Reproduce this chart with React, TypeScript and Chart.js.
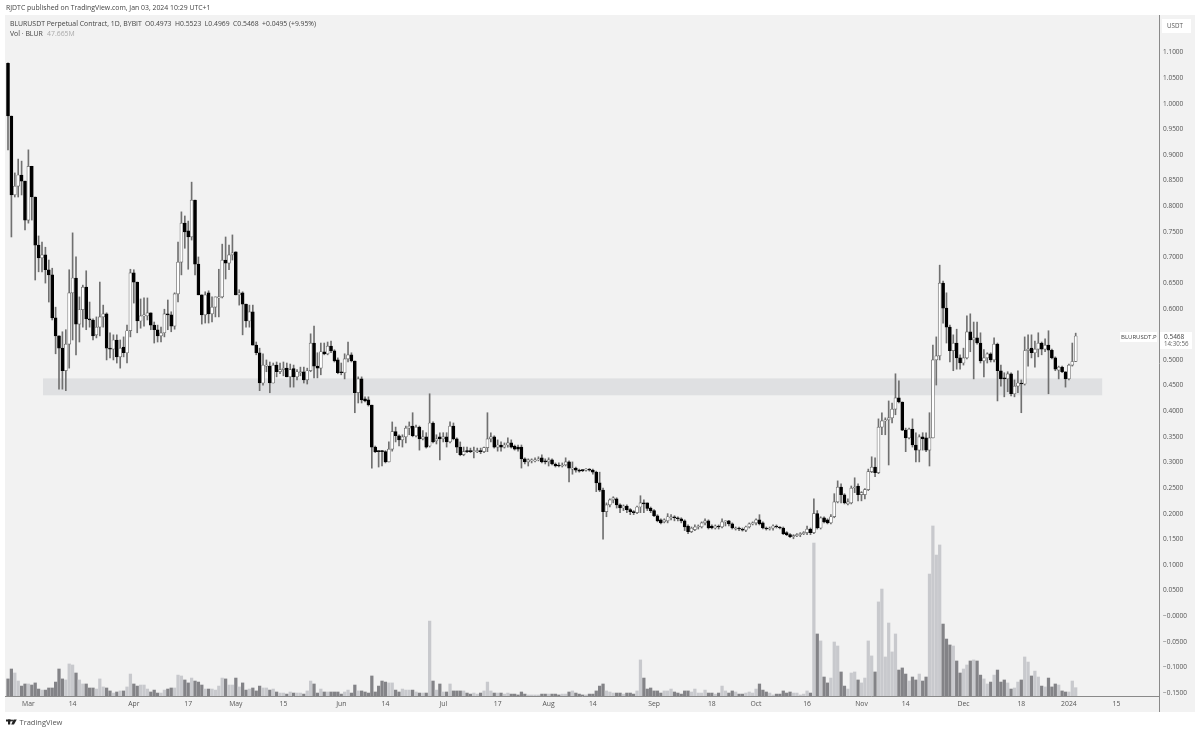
import React, { useEffect, useRef } from "react";
import { Chart, registerables } from "chart.js";

Chart.register(...registerables);

const opens = [
1.079,.976,.822,.839,.861,.849,.773,.878,.818,.724,
.699,.705,.676,.666,.582,.547,.523,.479,.531,.631,
.660,.570,.598,.642,.580,.578,.549,.564,.584,.590,
.523,.521,.539,.506,.525,.514,.557,.670,.652,.576,
.586,.586,.592,.568,.559,.547,.553,.590,.588,.566,
.629,.691,.767,.752,.740,.812,.687,.627,.588,.631,
.590,.603,.621,.623,.695,.689,.705,.711,.627,.631,
.609,.576,.594,.529,.514,.455,.488,.488,.455,.490,
.477,.481,.484,.467,.483,.467,.475,.477,.461,.479,
.533,.488,.484,.516,.512,.527,.518,.500,.477,.475,
.502,.510,.498,.436,.463,.424,.422,.412,.330,.323,
.323,.321,.301,.326,.360,.352,.344,.350,.367,.371,
.352,.369,.346,.350,.332,.377,.342,.350,.346,.350,
.340,.371,.346,.330,.315,.323,.323,.321,.321,.323,
.321,.329,.346,.350,.330,.334,.330,.334,.338,.332,
.330,.330,.307,.301,.303,.303,.305,.309,.303,.301,
.305,.297,.295,.293,.295,.301,.287,.289,.285,.285,
.285,.287,.285,.281,.260,.246,.204,.217,.227,.229,
.217,.211,.215,.208,.204,.202,.213,.221,.221,.211,
.206,.196,.188,.184,.186,.192,.194,.192,.190,.186,
.176,.165,.169,.174,.174,.182,.186,.176,.172,.176,
.174,.184,.186,.180,.170,.172,.170,.168,.174,.180,
.182,.188,.182,.172,.170,.172,.176,.174,.172,.163,
.159,.155,.157,.159,.161,.163,.170,.163,.200,.172,
.192,.188,.182,.194,.223,.252,.237,.219,.221,.250,
.254,.237,.237,.247,.282,.291,.280,.369,.381,.383,
.387,.404,.426,.418,.363,.348,.365,.334,.324,.350,
.348,.324,.348,.500,.508,.650,.601,.564,.518,.533,
.504,.494,.504,.555,.539,.543,.533,.498,.504,.512,
.500,.531,.479,.465,.463,.473,.434,.449,.455,.453,
.518,.523,.514,.521,.533,.521,.529,.519,.504,.480,
.486,.477,.463,.490,.4973];

const highs = [
1.080,.976,.865,.892,.888,.849,.910,.878,.818,.742,
.730,.720,.695,.679,.603,.547,.555,.559,.676,.748,
.701,.623,.646,.674,.613,.580,.584,.652,.607,.592,
.553,.549,.549,.539,.545,.568,.677,.676,.652,.619,
.621,.621,.592,.574,.568,.564,.599,.617,.594,.631,
.730,.789,.781,.771,.847,.812,.701,.627,.633,.635,
.623,.623,.677,.726,.740,.724,.744,.711,.637,.633,
.609,.607,.607,.535,.523,.512,.500,.496,.494,.496,
.494,.496,.494,.492,.490,.481,.486,.486,.484,.551,
.566,.514,.533,.533,.535,.537,.520,.504,.494,.512,
.535,.514,.498,.467,.467,.428,.428,.412,.332,.323,
.323,.323,.340,.379,.369,.354,.354,.371,.379,.397,
.373,.371,.362,.358,.434,.379,.354,.358,.358,.358,
.379,.377,.348,.340,.330,.330,.328,.330,.328,.328,
.330,.397,.358,.352,.344,.340,.338,.348,.344,.334,
.334,.334,.309,.307,.307,.309,.311,.315,.307,.309,
.307,.299,.299,.299,.309,.303,.301,.291,.287,.286,
.288,.288,.287,.283,.281,.250,.221,.229,.233,.231,
.219,.217,.217,.210,.206,.215,.235,.227,.221,.213,
.208,.198,.190,.190,.200,.198,.196,.194,.192,.188,
.178,.174,.178,.178,.184,.190,.188,.178,.178,.178,
.190,.186,.187,.182,.174,.174,.172,.176,.182,.184,
.190,.198,.184,.174,.174,.178,.178,.175,.174,.165,
.161,.159,.161,.163,.165,.176,.172,.229,.206,.194,
.194,.190,.198,.239,.264,.258,.239,.229,.254,.270,
.258,.243,.249,.287,.311,.309,.385,.397,.387,.420,
.416,.473,.459,.418,.367,.367,.385,.358,.354,.358,
.358,.397,.529,.545,.685,.654,.631,.568,.549,.560,
.510,.523,.586,.590,.574,.574,.553,.520,.514,.514,
.543,.533,.490,.475,.477,.475,.461,.479,.461,.545,
.549,.549,.537,.553,.535,.541,.557,.521,.506,.488,
.488,.477,.492,.533,.5523];

const lows = [
.910,.740,.818,.818,.822,.754,.767,.773,.656,.672,
.672,.650,.613,.578,.512,.443,.443,.440,.484,.539,
.510,.535,.564,.559,.564,.539,.543,.547,.564,.500,
.504,.500,.494,.484,.506,.494,.545,.611,.553,.562,
.566,.578,.559,.533,.535,.535,.545,.559,.555,.560,
.613,.666,.718,.677,.734,.666,.627,.570,.572,.572,
.574,.584,.584,.621,.658,.676,.695,.627,.607,.549,
.564,.564,.529,.510,.440,.451,.477,.436,.455,.467,
.473,.469,.467,.447,.447,.461,.469,.455,.453,.477,
.465,.465,.471,.510,.510,.514,.496,.473,.471,.463,
.496,.496,.397,.416,.416,.418,.410,.289,.319,.291,
.293,.299,.301,.322,.340,.332,.330,.338,.354,.350,
.350,.324,.344,.328,.330,.338,.336,.305,.340,.330,
.338,.344,.319,.313,.313,.319,.319,.309,.319,.317,
.319,.321,.340,.328,.322,.322,.328,.330,.328,.324,
.322,.289,.297,.293,.299,.301,.303,.299,.297,.293,
.295,.291,.291,.291,.293,.262,.277,.281,.281,.282,
.283,.283,.277,.243,.243,.150,.194,.213,.221,.211,
.202,.206,.202,.198,.198,.200,.202,.202,.206,.202,
.194,.184,.180,.182,.182,.188,.186,.186,.182,.167,
.161,.163,.167,.170,.172,.178,.170,.170,.170,.170,
.172,.176,.176,.170,.168,.167,.166,.165,.172,.178,
.178,.178,.170,.168,.168,.168,.172,.170,.159,.157,
.153,.151,.155,.155,.159,.159,.159,.161,.170,.170,
.182,.180,.180,.192,.221,.221,.219,.217,.219,.241,
.225,.225,.229,.245,.280,.272,.278,.354,.354,.295,
.377,.393,.416,.362,.321,.346,.330,.301,.301,.324,
.321,.293,.348,.451,.500,.572,.533,.496,.479,.482,
.482,.490,.502,.516,.463,.531,.494,.467,.494,.496,
.496,.420,.449,.428,.438,.430,.428,.436,.397,.451,
.488,.504,.486,.506,.510,.516,.434,.502,.479,.463,
.475,.447,.461,.488,.4969];

const closes = [
.976,.822,.839,.861,.849,.773,.878,.818,.724,.699,
.705,.676,.666,.582,.547,.523,.479,.531,.631,.660,
.570,.598,.642,.580,.578,.547,.564,.584,.590,.523,
.521,.539,.506,.523,.514,.557,.670,.652,.576,.586,
.588,.592,.568,.559,.547,.553,.590,.588,.566,.629,
.691,.767,.750,.740,.812,.687,.627,.588,.627,.590,
.603,.623,.623,.695,.689,.705,.709,.627,.631,.609,
.576,.594,.529,.514,.455,.490,.490,.455,.490,.477,
.481,.484,.467,.481,.467,.477,.477,.461,.479,.533,
.488,.484,.516,.512,.527,.518,.498,.475,.475,.502,
.510,.498,.436,.463,.422,.420,.412,.330,.321,.321,
.321,.301,.326,.360,.352,.344,.350,.367,.371,.352,
.369,.346,.350,.330,.377,.340,.346,.346,.350,.340,
.371,.346,.330,.315,.321,.321,.321,.323,.323,.321,
.329,.346,.350,.330,.334,.330,.334,.338,.330,.326,
.326,.307,.301,.305,.305,.305,.307,.301,.301,.305,
.297,.293,.293,.295,.301,.289,.289,.285,.283,.284,
.287,.285,.281,.260,.246,.204,.217,.227,.231,.217,
.211,.215,.208,.204,.202,.213,.221,.219,.210,.206,
.196,.186,.182,.188,.194,.194,.192,.190,.186,.174,
.165,.172,.174,.176,.182,.186,.172,.172,.176,.174,
.184,.186,.180,.172,.172,.170,.168,.174,.180,.182,
.188,.180,.172,.170,.172,.176,.174,.172,.161,.159,
.155,.157,.159,.161,.163,.170,.163,.200,.172,.192,
.184,.182,.194,.223,.252,.237,.221,.223,.250,.252,
.237,.241,.247,.282,.291,.280,.369,.381,.383,.387,
.404,.426,.418,.363,.348,.365,.334,.324,.350,.346,
.324,.348,.500,.508,.650,.601,.564,.518,.533,.504,
.494,.504,.555,.539,.543,.533,.498,.504,.512,.500,
.531,.479,.463,.463,.473,.434,.449,.455,.453,.518,
.521,.514,.521,.533,.521,.529,.519,.504,.482,.486,
.477,.463,.490,.497,.5468];

const volumes = [
98,155,132,86,57,69,69,63,75,40,
34,34,46,46,80,155,98,92,184,178,
132,92,69,69,46,46,40,98,52,46,
29,17,23,29,29,52,126,69,57,63,
63,40,23,34,17,17,34,40,46,46,
120,115,92,75,103,86,80,63,40,40,
40,34,57,103,98,63,63,103,52,75,
34,40,46,29,57,46,46,34,40,23,
17,17,11,23,17,17,17,11,29,86,
69,17,40,23,23,23,23,23,11,23,
34,17,63,29,29,23,17,115,23,57,
86,80,75,75,34,23,40,34,34,34,
23,17,17,17,430,86,34,69,23,23,
69,29,29,29,29,17,11,17,11,17,
29,80,29,17,17,17,11,17,11,11,
6,23,11,6,6,6,6,11,11,11,
11,11,6,11,11,23,29,17,11,6,
6,11,11,29,57,69,29,23,17,17,
17,11,17,17,11,29,207,103,40,46,
29,29,17,29,29,40,23,17,11,29,
29,23,40,17,17,34,17,17,11,17,
57,29,17,29,23,11,11,17,23,17,
40,69,34,23,17,6,11,11,29,17,
23,17,17,6,11,29,17,878,356,316,
109,75,103,310,287,138,57,40,132,138,
92,75,103,316,230,138,540,614,224,419,
253,356,149,161,126,86,109,92,126,86,
109,700,976,809,867,413,327,293,287,201,
132,155,178,201,207,201,120,98,69,80,
120,149,80,92,75,40,46,80,92,224,
195,115,143,109,57,52,103,52,69,63,
29,23,23,86,47.665];

const xTickIndexes = [6,19,37,53,67,81,98,111,128,144,159,172,190,207,220,235,251,264,281,298,312,326];
const xTickLabels = ["Mar","14","Apr","17","May","15","Jun","14","Jul","17","Aug","14","Sep","18","Oct","16","Nov","14","Dec","18","2024","15"];
const yTickValues = [1.1,1.05,1,.95,.9,.85,.8,.75,.7,.65,.6,.5,.45,.4,.35,.3,.25,.2,.15,.1,.05,0,-.05,-.1,-.15];
const yTickLabels = ["1.1000","1.0500","1.0000","0.9500","0.9000","0.8500","0.8000","0.7500","0.7000","0.6500","0.6000","0.5000","0.4500","0.4000","0.3500","0.3000","0.2500","0.2000","0.1500","0.1000","0.0500","−0.0000","−0.0500","−0.1000","−0.1500"];

const bandLow = 0.431;
const bandHigh = 0.464;
const bandFirstIndex = 10.3;
const bandLastIndex = 321.8;

const publishedText = "RJDTC published on TradingView.com, Jan 03, 2024 10:29 UTC+1";
const symbolText = "BLURUSDT Perpetual Contract, 1D, BYBIT";
const ohlcText = "O0.4973  H0.5523  L0.4969  C0.5468  +0.0495 (+9.95%)";
const volText = "Vol · BLUR";
const lastVolText = "47.665M";
const FONT = '"Open Sans", sans-serif';
const TEXT = "#555";

const framePlugin = {
  id: "frame",
  beforeDraw(chart: any) {
    const { ctx, width, height } = chart;
    ctx.save();
    ctx.fillStyle = "#fff";
    ctx.fillRect(0, 0, width, height);
    ctx.fillStyle = "#f2f2f2";
    ctx.fillRect(5, 15, 1190, 697);
    ctx.restore();
  },
  beforeDatasetsDraw(chart: any) {
    const { ctx, scales } = chart;
    const x0 = scales.x.getPixelForValue(bandFirstIndex);
    const x1 = scales.x.getPixelForValue(bandLastIndex);
    const y0 = scales.y.getPixelForValue(bandHigh);
    const y1 = scales.y.getPixelForValue(bandLow);
    ctx.save();
    ctx.fillStyle = "#dfe0e2";
    ctx.fillRect(x0, y0, x1 - x0, y1 - y0);
    ctx.restore();
  },
  afterDraw(chart: any) {
    const { ctx, chartArea } = chart;
    ctx.save();
    ctx.strokeStyle = "#8a8a8a";
    ctx.lineWidth = 1;
    ctx.beginPath();
    ctx.moveTo(chartArea.right + 0.5, 15);
    ctx.lineTo(chartArea.right + 0.5, 712);
    ctx.stroke();

    ctx.textBaseline = "middle";
    ctx.textAlign = "left";
    const text = (s: string, x: number, y: number, size: number, color: string) => {
      ctx.font = `${size}px ${FONT}`;
      ctx.fillStyle = color;
      ctx.fillText(s, x, y);
    };
    text(publishedText, 6, 8.5, 6.9, "#444");
    text(symbolText, 10, 24, 6.9, "#444");
    text(ohlcText, 145, 24, 6.8, "#444");
    text(volText, 10, 34, 6.9, "#444");
    text(lastVolText, 47, 34, 6.9, "#aaa");

    ctx.fillStyle = "#fff";
    ctx.fillRect(1162, 19, 29, 14);
    text("USDT", 1167, 26, 6.2, TEXT);

    ctx.fillStyle = "#fff";
    ctx.fillRect(1120, 332, 37, 10);
    ctx.fillRect(1160, 332, 32, 17);
    text("BLURUSDT.P", 1121, 337, 6, "#444");
    text("0.5468", 1164, 337, 6.5, "#444");
    text("14:30:56", 1164, 344.5, 6.2, "#666");

    ctx.fillStyle = "#222";
    ctx.fillRect(6, 719.5, 5, 2);
    ctx.fillRect(8, 719.5, 2.2, 5);
    ctx.beginPath();
    ctx.arc(12, 720.5, 1, 0, Math.PI * 2);
    ctx.fill();
    ctx.beginPath();
    ctx.moveTo(13.6, 719.5);
    ctx.lineTo(16.8, 719.5);
    ctx.lineTo(14, 724.5);
    ctx.lineTo(11.2, 724.5);
    ctx.closePath();
    ctx.fill();
    text("TradingView", 19.5, 723, 7.5, "#555");
    ctx.restore();
  },
};

export default function App() {
  const ref = useRef<HTMLCanvasElement>(null);

  useEffect(() => {
    const indexes = closes.map((_, i) => i);
    const isUp = (i: number) => closes[i] >= opens[i];
    const chart = new Chart(ref.current as HTMLCanvasElement, {
      type: "bar",
      plugins: [framePlugin],
      data: {
        datasets: [
          {
            label: "Candle bodies",
            order: 1,
            grouped: false,
            yAxisID: "y",
            barThickness: 3,
            minBarLength: 1,
            borderWidth: 0.7,
            borderSkipped: false,
            backgroundColor: indexes.map((i) => (isUp(i) ? "#ffffff" : "#000000")),
            borderColor: indexes.map((i) => (isUp(i) ? "#606060" : "#000000")),
            data: indexes.map((i) => ({ x: i, y: [opens[i], closes[i]] })),
          },
          {
            label: "Wicks",
            order: 2,
            grouped: false,
            yAxisID: "y",
            barThickness: 1,
            backgroundColor: "#707070",
            data: indexes.map((i) => ({ x: i, y: [lows[i], highs[i]] })),
          },
          {
            label: "Volume",
            order: 3,
            grouped: false,
            yAxisID: "y2",
            barThickness: 2.6,
            backgroundColor: indexes.map((i) => (isUp(i) ? "#c8c9cd" : "#838387")),
            data: indexes.map((i) => ({ x: i, y: volumes[i] })),
          },
        ] as any,
      },
      options: {
        responsive: false,
        animation: false,
        devicePixelRatio: 1,
        layout: { padding: { left: 5, top: 15, right: 0, bottom: 21 } },
        plugins: { legend: { display: false }, tooltip: { enabled: false } },
        scales: {
          x: {
            type: "linear",
            offset: false,
            min: -0.882,
            max: 338.5,
            grid: { display: false, drawTicks: false },
            border: { display: true, color: "#8a8a8a", width: 1 },
            afterBuildTicks: (s: any) => {
              s.ticks = xTickIndexes.map((value) => ({ value }));
            },
            afterFit: (s: any) => {
              s.height = 16;
            },
            ticks: {
              autoSkip: false,
              maxRotation: 0,
              padding: 4,
              color: TEXT,
              font: { family: FONT, size: 6.8 },
              callback: (v: any) => xTickLabels[xTickIndexes.indexOf(v)],
            },
          },
          y: {
            position: "right",
            min: -0.15585,
            max: 1.1732,
            grid: { display: false, drawTicks: false },
            border: { display: false },
            afterBuildTicks: (s: any) => {
              s.ticks = yTickValues.map((value) => ({ value }));
            },
            afterFit: (s: any) => {
              s.width = 41;
            },
            ticks: {
              autoSkip: false,
              padding: 4,
              color: TEXT,
              font: { family: FONT, size: 6.5 },
              callback: (v: any) => yTickLabels[yTickValues.indexOf(v)],
            },
          },
          y2: { display: false, position: "right", min: 0, max: 3909 },
        },
      } as any,
    });
    return () => chart.destroy();
  }, []);

  return (
    <div style={{ position: "fixed", left: 0, top: 0, width: 1200, height: 733 }}>
      <canvas ref={ref} width={1200} height={733} style={{ display: "block" }} />
    </div>
  );
}
